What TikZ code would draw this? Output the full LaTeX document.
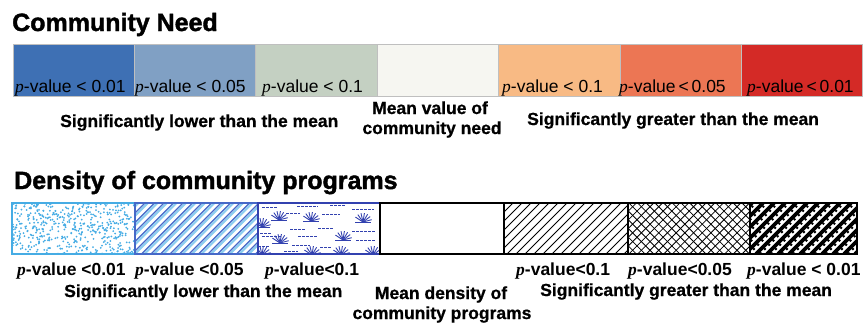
\documentclass[tikz,border=0pt]{standalone}
\usepackage{fontspec}
\setmainfont{Liberation Sans}
\newfontfamily\pserif{Liberation Serif}
\newfontfamily\headfont{Liberation Sans Bold}[FakeBold=1.6]
\newfontfamily\notefont{Liberation Sans Bold}[FakeBold=0.8]
\usetikzlibrary{positioning}
\usepackage{xcolor}
\definecolor{needA}{RGB}{62,112,180}
\definecolor{needB}{RGB}{128,160,196}
\definecolor{needC}{RGB}{196,208,194}
\definecolor{needD}{RGB}{246,246,241}
\definecolor{needE}{RGB}{248,186,132}
\definecolor{needF}{RGB}{236,118,84}
\definecolor{needG}{RGB}{212,42,38}
\definecolor{dotblue}{RGB}{70,172,228}
\definecolor{stripelight}{RGB}{140,205,240}
\definecolor{stripedark}{RGB}{70,105,200}
\definecolor{fanblue}{RGB}{50,65,175}
\tikzset{
  needcell/.style = {draw=black!25, line width=0.8pt, rectangle, inner sep=0pt,
                     outer sep=0pt, minimum height=52pt, minimum width=121.4pt},
  dencell/.style  = {rectangle, line width=1.2pt, inner sep=0pt, outer sep=0pt,
                     minimum height=51pt},
  heading/.style  = {font=\fontsize{25}{28}\headfont, anchor=base west, inner sep=0pt},
  pvlabel/.style  = {font=\fontsize{17.5}{20}\selectfont, anchor=base west, inner sep=0pt},
  pvbold/.style   = {pvlabel, font=\fontsize{17.5}{20}\selectfont\bfseries},
  note/.style     = {font=\fontsize{17.5}{20}\notefont, anchor=base, inner sep=0pt},
  hatch/.style    = {line width=0.8pt, black},
  fanline/.style  = {line width=0.9pt, fanblue},
}
\newcommand{\pv}[1]{{\pserif\itshape p}-value#1}
\newcommand{\fan}[2]{\foreach \a in {15,37,...,165} \draw[fanline] (#1,#2) -- ++(-\a:9);
  \draw[fanline] ({#1-8},#2) -- ({#1+8},#2);}
\newcommand{\dashrow}[3]{\draw[fanline, dash pattern=on 2.5pt off 1.5pt] (#1,#3) -- (#2,#3);}

\begin{document}
\begin{tikzpicture}[x=1pt,y=-1pt]
\useasboundingbox (0,0) rectangle (865,325);
% ---------- community need ----------
\node[heading] (needtitle) at (12,31) {Community Need};
\foreach \c [count=\i] in {needA,needB,needC,needD,needE,needF,needG}
  \node[needcell, fill=\c] (need\i) at ({13+121.4*(\i-0.5)},70) {};
\node[pvlabel] (needp1) at (15,92) {\pv{ < 0.01}};
\node[pvlabel] (needp2) at (135,92) {\pv{ < 0.05}};
\node[pvlabel] (needp3) at (262,92) {\pv{ < 0.1}};
\node[pvlabel] (needp5) at (502,92) {\pv{ < 0.1}};
\node[pvlabel] (needp6) at (619,92) {\pv{\,<\,0.05}};
\node[pvlabel] (needp7) at (747,92) {\pv{\,<\,0.01}};
\node[note, anchor=base west] (needlow) at (60,127) {Significantly lower than the mean};
\node[note] (needmean1) at (430,114) {Mean value of};
\node[note] (needmean2) at (432,134) {community need};
\node[note, anchor=base west] (needhigh) at (527,125) {Significantly greater than the mean};
% ---------- density of programs ----------
\node[heading] (dentitle) at (14,189) {Density of community programs};
% dots
\begin{scope}
\clip (12,203) rectangle (135,254);
\pgfmathsetseed{11}
\foreach \k in {1,...,520}
  \fill[dotblue] ({12+123*rnd},{203+51*rnd}) circle (1.0);
\end{scope}
% double stripes
\begin{scope}
\clip (135,203) rectangle (258,254);
\foreach \s in {-60,-50.5,...,130} {
  \draw[stripelight, line width=2.2pt] ({135+\s+2.8},254) -- ++(51,-51);
  \draw[stripedark, line width=1.2pt] ({135+\s},254) -- ++(51,-51);
}
\end{scope}
% fans and dashes
\begin{scope}
\clip (258,203) rectangle (380,254);
\fan{279}{220} \fan{311}{221} \fan{363}{222} \fan{262}{227}
\fan{280}{243} \fan{343}{240} \fan{312}{255} \fan{341}{255}
\fan{373}{255} \fan{262}{255}
\dashrow{262}{278}{207} \dashrow{297}{318}{206} \dashrow{330}{346}{205}
\dashrow{352}{374}{209} \dashrow{286}{300}{213} \dashrow{322}{340}{214}
\dashrow{260}{272}{233} \dashrow{290}{306}{229} \dashrow{318}{334}{228}
\dashrow{352}{376}{231} \dashrow{262}{282}{236} \dashrow{298}{318}{236}
\dashrow{356}{376}{240} \dashrow{258}{270}{246} \dashrow{292}{310}{245}
\dashrow{320}{332}{247} \dashrow{284}{298}{251}
\end{scope}
% thin hatch
\begin{scope}
\clip (504,203) rectangle (628,254);
\foreach \s in {-60,-51,...,130}
  \draw[hatch] ({504+\s},254) -- ++(51,-51);
\end{scope}
% cross hatch
\begin{scope}
\clip (628,203) rectangle (750,254);
\foreach \s in {-60,-51.3,...,130} {
  \draw[hatch] ({628+\s},254) -- ++(51,-51);
  \draw[hatch] ({628+\s},203) -- ++(51,51);
}
\end{scope}
% heavy stripes
\begin{scope}
\clip (750,203) rectangle (857,254);
\foreach \s in {-60,-49,...,120} {
  \draw[black, line width=3.6pt] ({750+\s},254) -- ++(51,-51);
  \draw[black, line width=2pt, dash pattern=on 2pt off 4pt] ({750+\s+4},254) -- ++(51,-51);
}
\end{scope}
\foreach \l/\r/\c [count=\i] in {12/135/dotblue,135/258/stripedark,258/380/fanblue,
    380/504/black,504/628/black,628/750/black,750/857/black}
  \node[dencell, draw=\c, minimum width={(\r-\l)*1pt}] (den\i) at ({(\l+\r)/2},228.5) {};
\node[pvbold] (denp1) at (17,275) {\pv{ <0.01}};
\node[pvbold] (denp2) at (135,275) {\pv{ <0.05}};
\node[pvbold] (denp3) at (265,275) {\pv{<0.1}};
\node[pvbold] (denp5) at (516,275) {\pv{<0.1}};
\node[pvbold] (denp6) at (628,275) {\pv{<0.05}};
\node[pvbold] (denp7) at (747,275) {\pv{ < 0.01}};
\node[note, anchor=base west] (denlow) at (64,297) {Significantly lower than the mean};
\node[note] (denmean1) at (441,299) {Mean density of};
\node[note] (denmean2) at (442,319) {community programs};
\node[note, anchor=base west] (denhigh) at (540,296) {Significantly greater than the mean};
\end{tikzpicture}
\end{document}
